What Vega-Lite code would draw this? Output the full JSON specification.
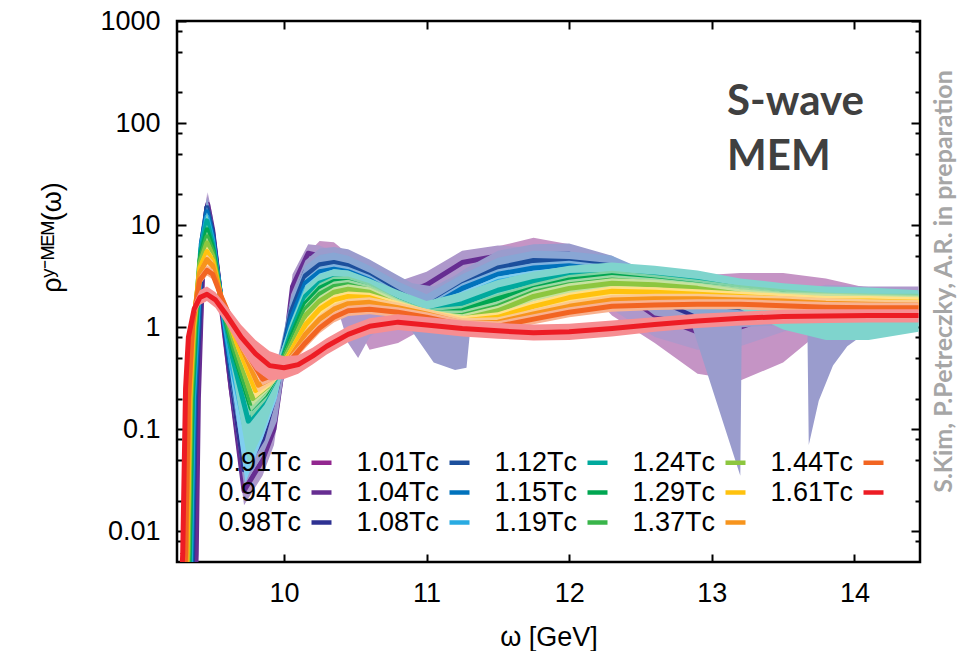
{
"$schema":"https://vega.github.io/schema/vega-lite/v6.json",
"width":743,"height":541,
"autosize":{"type":"none"},
"padding":{"left":177,"top":21,"right":37,"bottom":89},
"background":"white",
"config":{"view":{"stroke":"black","strokeWidth":2.5},"font":"Liberation Sans","axis":{"grid":false,"domain":false,"tickColor":"black","tickWidth":2,"labelColor":"black","titleColor":"black","labelFont":"Liberation Sans","titleFont":"Liberation Sans","labelFontSize":27,"titleFontSize":27,"titleFontWeight":"normal"}},
"datasets":{"c":[
{"t":"0.91","w":9.345,"v":0.0006,"lo":0.0004,"hi":0.0008},{"t":"0.91","w":9.37,"v":0.006,"lo":0.004,"hi":0.008},{"t":"0.91","w":9.39,"v":0.2,"lo":0.15,"hi":0.27},{"t":"0.91","w":9.415,"v":1.2,"lo":0.9,"hi":1.6},{"t":"0.91","w":9.435,"v":7,"lo":5.4,"hi":9},{"t":"0.91","w":9.46,"v":15,"lo":11,"hi":20},{"t":"0.91","w":9.5,"v":8,"lo":6,"hi":10.5},{"t":"0.91","w":9.56,"v":1.6,"lo":1.2,"hi":2.1},{"t":"0.91","w":9.63,"v":0.25,"lo":0.17,"hi":0.37},{"t":"0.91","w":9.72,"v":0.035,"lo":0.022,"hi":0.055},{"t":"0.91","w":9.85,"v":0.07,"lo":0.045,"hi":0.11},{"t":"0.91","w":9.95,"v":0.2,"lo":0.13,"hi":0.3},{"t":"0.91","w":10.05,"v":1.2,"lo":0.8,"hi":1.7},{"t":"0.91","w":10.15,"v":3.8,"lo":2.8,"hi":5},{"t":"0.91","w":10.25,"v":5.6,"lo":4.2,"hi":7},{"t":"0.91","w":10.35,"v":5.3,"lo":3.8,"hi":6.8},{"t":"0.91","w":10.45,"v":3.8,"lo":1.5,"hi":5.2},{"t":"0.91","w":10.6,"v":2.0,"lo":0.6,"hi":3.0},{"t":"0.91","w":10.8,"v":1.4,"lo":0.7,"hi":2.0},{"t":"0.91","w":11.0,"v":1.5,"lo":1.0,"hi":2.1},{"t":"0.91","w":11.25,"v":2.6,"lo":1.9,"hi":3.5},{"t":"0.91","w":11.5,"v":4.8,"lo":3.6,"hi":6.2},{"t":"0.91","w":11.75,"v":6.0,"lo":4.6,"hi":7.5},{"t":"0.91","w":12.0,"v":5.0,"lo":3.6,"hi":6.5},{"t":"0.91","w":12.3,"v":3.0,"lo":1.3,"hi":4.2},{"t":"0.91","w":12.6,"v":1.3,"lo":0.7,"hi":2.8},{"t":"0.91","w":12.9,"v":0.85,"lo":0.35,"hi":3.2},{"t":"0.91","w":13.2,"v":0.9,"lo":0.3,"hi":3.4},{"t":"0.91","w":13.5,"v":1.3,"lo":0.45,"hi":3.4},{"t":"0.91","w":13.8,"v":1.7,"lo":1.0,"hi":3.0},{"t":"0.91","w":14.1,"v":1.8,"lo":1.3,"hi":2.4},{"t":"0.91","w":14.45,"v":1.8,"lo":1.3,"hi":2.3},
{"t":"0.94","w":9.36,"v":0.0006,"lo":0.0004,"hi":0.0008},{"t":"0.94","w":9.385,"v":0.006,"lo":0.004,"hi":0.008},{"t":"0.94","w":9.4,"v":0.2,"lo":0.15,"hi":0.27},{"t":"0.94","w":9.42,"v":1.5,"lo":1.1,"hi":2},{"t":"0.94","w":9.44,"v":8,"lo":6,"hi":11},{"t":"0.94","w":9.465,"v":16,"lo":12,"hi":21},{"t":"0.94","w":9.5,"v":9,"lo":6.8,"hi":12},{"t":"0.94","w":9.56,"v":1.8,"lo":1.3,"hi":2.4},{"t":"0.94","w":9.63,"v":0.25,"lo":0.17,"hi":0.37},{"t":"0.94","w":9.72,"v":0.025,"lo":0.018,"hi":0.035},{"t":"0.94","w":9.85,"v":0.05,"lo":0.035,"hi":0.075},{"t":"0.94","w":9.93,"v":0.1,"lo":0.07,"hi":0.15},{"t":"0.94","w":10.0,"v":0.5,"lo":0.35,"hi":0.7},{"t":"0.94","w":10.06,"v":2.5,"lo":1.8,"hi":3.3},{"t":"0.94","w":10.17,"v":5.3,"lo":4.0,"hi":6.5},{"t":"0.94","w":10.25,"v":5.0,"lo":3.8,"hi":6.3},{"t":"0.94","w":10.35,"v":4.2,"lo":2.0,"hi":5.5},{"t":"0.94","w":10.45,"v":3.3,"lo":0.7,"hi":4.5},{"t":"0.94","w":10.52,"v":2.8,"lo":0.5,"hi":4.0},{"t":"0.94","w":10.6,"v":2.4,"lo":0.8,"hi":3.4},{"t":"0.94","w":10.8,"v":2.0,"lo":1.3,"hi":2.8},{"t":"0.94","w":11.0,"v":2.6,"lo":1.8,"hi":3.5},{"t":"0.94","w":11.25,"v":4.3,"lo":3.2,"hi":5.6},{"t":"0.94","w":11.5,"v":5.0,"lo":3.8,"hi":6.3},{"t":"0.94","w":11.75,"v":4.6,"lo":3.4,"hi":6.0},{"t":"0.94","w":12.0,"v":3.8,"lo":2.6,"hi":5.2},{"t":"0.94","w":12.3,"v":2.5,"lo":1.5,"hi":3.6},{"t":"0.94","w":12.6,"v":1.3,"lo":0.8,"hi":2.2},{"t":"0.94","w":12.9,"v":0.9,"lo":0.6,"hi":1.6},{"t":"0.94","w":13.2,"v":1.0,"lo":0.65,"hi":1.6},{"t":"0.94","w":13.5,"v":1.4,"lo":0.9,"hi":2.1},{"t":"0.94","w":13.8,"v":1.8,"lo":1.2,"hi":2.6},{"t":"0.94","w":14.1,"v":1.9,"lo":1.4,"hi":2.5},{"t":"0.94","w":14.45,"v":1.9,"lo":1.4,"hi":2.5},
{"t":"0.98","w":9.335,"v":0.0006,"lo":0.0004,"hi":0.0008},{"t":"0.98","w":9.36,"v":0.006,"lo":0.004,"hi":0.008},{"t":"0.98","w":9.38,"v":0.2,"lo":0.15,"hi":0.27},{"t":"0.98","w":9.405,"v":1.0,"lo":0.75,"hi":1.35},{"t":"0.98","w":9.43,"v":7,"lo":5.3,"hi":9},{"t":"0.98","w":9.46,"v":15,"lo":11.5,"hi":19},{"t":"0.98","w":9.5,"v":8.5,"lo":6.5,"hi":11},{"t":"0.98","w":9.56,"v":1.8,"lo":1.35,"hi":2.4},{"t":"0.98","w":9.63,"v":0.3,"lo":0.2,"hi":0.45},{"t":"0.98","w":9.72,"v":0.04,"lo":0.028,"hi":0.06},{"t":"0.98","w":9.85,"v":0.08,"lo":0.055,"hi":0.12},{"t":"0.98","w":9.95,"v":0.25,"lo":0.12,"hi":0.38},{"t":"0.98","w":10.05,"v":1.5,"lo":1.0,"hi":2.1},{"t":"0.98","w":10.15,"v":3.5,"lo":2.7,"hi":4.5},{"t":"0.98","w":10.25,"v":4.6,"lo":3.6,"hi":5.9},{"t":"0.98","w":10.35,"v":4.8,"lo":3.7,"hi":6.1},{"t":"0.98","w":10.45,"v":4.5,"lo":3.4,"hi":5.8},{"t":"0.98","w":10.6,"v":3.5,"lo":2.5,"hi":4.6},{"t":"0.98","w":10.8,"v":2.3,"lo":1.3,"hi":3.2},{"t":"0.98","w":10.9,"v":1.9,"lo":0.9,"hi":2.7},{"t":"0.98","w":11.05,"v":1.8,"lo":0.45,"hi":2.5},{"t":"0.98","w":11.2,"v":2.4,"lo":0.38,"hi":3.2},{"t":"0.98","w":11.28,"v":2.9,"lo":0.4,"hi":3.8},{"t":"0.98","w":11.32,"v":3.1,"lo":1.5,"hi":4.1},{"t":"0.98","w":11.5,"v":4.3,"lo":3.2,"hi":5.6},{"t":"0.98","w":11.75,"v":5.1,"lo":3.9,"hi":6.5},{"t":"0.98","w":12.0,"v":5.2,"lo":3.9,"hi":6.6},{"t":"0.98","w":12.3,"v":3.8,"lo":2.7,"hi":5.0},{"t":"0.98","w":12.6,"v":1.9,"lo":1.3,"hi":2.8},{"t":"0.98","w":12.85,"v":1.35,"lo":1.15,"hi":2.2},{"t":"0.98","w":13.2,"v":1.2,"lo":0.035,"hi":2.0},{"t":"0.98","w":13.21,"v":1.2,"lo":1.0,"hi":2.0},{"t":"0.98","w":13.5,"v":1.3,"lo":1.05,"hi":2.0},{"t":"0.98","w":13.67,"v":1.45,"lo":1.1,"hi":2.0},{"t":"0.98","w":13.68,"v":1.45,"lo":0.07,"hi":2.0},{"t":"0.98","w":13.75,"v":1.48,"lo":0.19,"hi":2.05},{"t":"0.98","w":13.85,"v":1.5,"lo":0.42,"hi":2.1},{"t":"0.98","w":13.95,"v":1.53,"lo":0.65,"hi":2.15},{"t":"0.98","w":14.05,"v":1.57,"lo":0.82,"hi":2.2},{"t":"0.98","w":14.2,"v":1.63,"lo":1.0,"hi":2.25},{"t":"0.98","w":14.45,"v":1.7,"lo":1.1,"hi":2.3},
{"t":"1.01","w":9.33,"v":0.0006,"lo":0.0004,"hi":0.0008},{"t":"1.01","w":9.355,"v":0.006,"lo":0.0045,"hi":0.008},{"t":"1.01","w":9.375,"v":0.2,"lo":0.16,"hi":0.25},{"t":"1.01","w":9.4,"v":1.0,"lo":0.8,"hi":1.25},{"t":"1.01","w":9.425,"v":7,"lo":5.6,"hi":8.7},{"t":"1.01","w":9.46,"v":14.8,"lo":12,"hi":18},{"t":"1.01","w":9.5,"v":8,"lo":6.4,"hi":10},{"t":"1.01","w":9.56,"v":1.8,"lo":1.4,"hi":2.3},{"t":"1.01","w":9.63,"v":0.35,"lo":0.25,"hi":0.5},{"t":"1.01","w":9.72,"v":0.07,"lo":0.045,"hi":0.1},{"t":"1.01","w":9.85,"v":0.12,"lo":0.08,"hi":0.18},{"t":"1.01","w":9.95,"v":0.3,"lo":0.2,"hi":0.45},{"t":"1.01","w":10.05,"v":1.4,"lo":1.0,"hi":1.9},{"t":"1.01","w":10.15,"v":3.2,"lo":2.5,"hi":4.0},{"t":"1.01","w":10.25,"v":4.1,"lo":3.3,"hi":5.1},{"t":"1.01","w":10.35,"v":4.3,"lo":3.4,"hi":5.4},{"t":"1.01","w":10.45,"v":4.0,"lo":3.2,"hi":5.0},{"t":"1.01","w":10.6,"v":3.2,"lo":2.5,"hi":4.0},{"t":"1.01","w":10.8,"v":2.2,"lo":1.7,"hi":2.8},{"t":"1.01","w":11.0,"v":1.6,"lo":1.2,"hi":2.1},{"t":"1.01","w":11.25,"v":2.6,"lo":2.0,"hi":3.3},{"t":"1.01","w":11.5,"v":3.8,"lo":3.0,"hi":4.8},{"t":"1.01","w":11.75,"v":4.5,"lo":3.6,"hi":5.6},{"t":"1.01","w":12.0,"v":4.4,"lo":3.5,"hi":5.5},{"t":"1.01","w":12.3,"v":4.0,"lo":3.2,"hi":5.0},{"t":"1.01","w":12.6,"v":2.6,"lo":2.0,"hi":3.3},{"t":"1.01","w":12.9,"v":1.7,"lo":1.3,"hi":2.2},{"t":"1.01","w":13.2,"v":1.55,"lo":1.2,"hi":2.0},{"t":"1.01","w":13.5,"v":1.5,"lo":1.2,"hi":1.9},{"t":"1.01","w":13.8,"v":1.6,"lo":1.3,"hi":2.0},{"t":"1.01","w":14.1,"v":1.7,"lo":1.4,"hi":2.1},{"t":"1.01","w":14.45,"v":1.8,"lo":1.5,"hi":2.2},
{"t":"1.04","w":9.325,"v":0.0006,"lo":0.0005,"hi":0.0007},{"t":"1.04","w":9.35,"v":0.006,"lo":0.005,"hi":0.007},{"t":"1.04","w":9.37,"v":0.2,"lo":0.17,"hi":0.24},{"t":"1.04","w":9.395,"v":1.0,"lo":0.89,"hi":1.12},{"t":"1.04","w":9.42,"v":6.5,"lo":5.8,"hi":7.3},{"t":"1.04","w":9.46,"v":13.5,"lo":12,"hi":15.1},{"t":"1.04","w":9.5,"v":7.5,"lo":6.7,"hi":8.4},{"t":"1.04","w":9.56,"v":1.8,"lo":1.6,"hi":2.0},{"t":"1.04","w":9.63,"v":0.4,"lo":0.33,"hi":0.5},{"t":"1.04","w":9.72,"v":0.085,"lo":0.06,"hi":0.12},{"t":"1.04","w":9.85,"v":0.14,"lo":0.1,"hi":0.19},{"t":"1.04","w":9.95,"v":0.3,"lo":0.24,"hi":0.38},{"t":"1.04","w":10.05,"v":1.2,"lo":1.07,"hi":1.34},{"t":"1.04","w":10.15,"v":2.7,"lo":2.4,"hi":3.0},{"t":"1.04","w":10.25,"v":3.5,"lo":3.1,"hi":3.9},{"t":"1.04","w":10.35,"v":3.7,"lo":3.3,"hi":4.15},{"t":"1.04","w":10.45,"v":3.5,"lo":3.1,"hi":3.9},{"t":"1.04","w":10.6,"v":2.9,"lo":2.6,"hi":3.25},{"t":"1.04","w":10.8,"v":2.0,"lo":1.78,"hi":2.24},{"t":"1.04","w":11.0,"v":1.5,"lo":1.34,"hi":1.68},{"t":"1.04","w":11.25,"v":2.4,"lo":2.14,"hi":2.7},{"t":"1.04","w":11.5,"v":3.3,"lo":2.94,"hi":3.7},{"t":"1.04","w":11.75,"v":3.8,"lo":3.38,"hi":4.26},{"t":"1.04","w":12.0,"v":4.0,"lo":3.56,"hi":4.48},{"t":"1.04","w":12.3,"v":3.6,"lo":3.2,"hi":4.03},{"t":"1.04","w":12.6,"v":2.8,"lo":2.5,"hi":3.14},{"t":"1.04","w":12.9,"v":2.0,"lo":1.78,"hi":2.24},{"t":"1.04","w":13.2,"v":1.7,"lo":1.51,"hi":1.9},{"t":"1.04","w":13.5,"v":1.6,"lo":1.42,"hi":1.79},{"t":"1.04","w":13.8,"v":1.7,"lo":1.51,"hi":1.9},{"t":"1.04","w":14.1,"v":1.8,"lo":1.6,"hi":2.02},{"t":"1.04","w":14.45,"v":1.85,"lo":1.65,"hi":2.07},
{"t":"1.08","w":9.32,"v":0.0006,"lo":0.0005,"hi":0.0007},{"t":"1.08","w":9.345,"v":0.006,"lo":0.005,"hi":0.007},{"t":"1.08","w":9.365,"v":0.2,"lo":0.17,"hi":0.24},{"t":"1.08","w":9.39,"v":1.0,"lo":0.89,"hi":1.12},{"t":"1.08","w":9.42,"v":6,"lo":5.34,"hi":6.72},{"t":"1.08","w":9.46,"v":12,"lo":10.7,"hi":13.4},{"t":"1.08","w":9.5,"v":7,"lo":6.23,"hi":7.84},{"t":"1.08","w":9.56,"v":1.8,"lo":1.6,"hi":2.0},{"t":"1.08","w":9.63,"v":0.45,"lo":0.3,"hi":0.6},{"t":"1.08","w":9.73,"v":0.1,"lo":0.03,"hi":0.16},{"t":"1.08","w":9.85,"v":0.16,"lo":0.08,"hi":0.25},{"t":"1.08","w":9.95,"v":0.32,"lo":0.2,"hi":0.45},{"t":"1.08","w":10.05,"v":1.0,"lo":0.89,"hi":1.12},{"t":"1.08","w":10.15,"v":2.3,"lo":2.05,"hi":2.58},{"t":"1.08","w":10.25,"v":3.0,"lo":2.67,"hi":3.36},{"t":"1.08","w":10.35,"v":3.3,"lo":2.94,"hi":3.7},{"t":"1.08","w":10.45,"v":3.2,"lo":2.85,"hi":3.58},{"t":"1.08","w":10.6,"v":2.6,"lo":2.31,"hi":2.91},{"t":"1.08","w":10.8,"v":1.9,"lo":1.69,"hi":2.13},{"t":"1.08","w":11.0,"v":1.5,"lo":1.34,"hi":1.68},{"t":"1.08","w":11.25,"v":2.0,"lo":1.78,"hi":2.24},{"t":"1.08","w":11.5,"v":2.8,"lo":2.49,"hi":3.14},{"t":"1.08","w":11.75,"v":3.2,"lo":2.85,"hi":3.58},{"t":"1.08","w":12.0,"v":3.5,"lo":3.12,"hi":3.92},{"t":"1.08","w":12.3,"v":3.4,"lo":3.03,"hi":3.81},{"t":"1.08","w":12.6,"v":2.9,"lo":2.58,"hi":3.25},{"t":"1.08","w":12.9,"v":2.3,"lo":2.05,"hi":2.58},{"t":"1.08","w":13.2,"v":1.9,"lo":1.69,"hi":2.13},{"t":"1.08","w":13.5,"v":1.8,"lo":1.6,"hi":2.02},{"t":"1.08","w":13.8,"v":1.8,"lo":1.6,"hi":2.02},{"t":"1.08","w":14.1,"v":1.9,"lo":1.69,"hi":2.13},{"t":"1.08","w":14.45,"v":1.9,"lo":1.69,"hi":2.13},
{"t":"1.12","w":9.315,"v":0.0006,"lo":0.0005,"hi":0.0007},{"t":"1.12","w":9.34,"v":0.006,"lo":0.005,"hi":0.007},{"t":"1.12","w":9.36,"v":0.2,"lo":0.17,"hi":0.24},{"t":"1.12","w":9.385,"v":1.0,"lo":0.83,"hi":1.2},{"t":"1.12","w":9.415,"v":5.5,"lo":4.6,"hi":6.6},{"t":"1.12","w":9.46,"v":11,"lo":9.2,"hi":13.2},{"t":"1.12","w":9.5,"v":6.5,"lo":5.4,"hi":7.8},{"t":"1.12","w":9.56,"v":1.8,"lo":1.5,"hi":2.2},{"t":"1.12","w":9.64,"v":0.5,"lo":0.35,"hi":0.7},{"t":"1.12","w":9.75,"v":0.12,"lo":0.045,"hi":0.2},{"t":"1.12","w":9.85,"v":0.18,"lo":0.09,"hi":0.28},{"t":"1.12","w":9.95,"v":0.33,"lo":0.22,"hi":0.45},{"t":"1.12","w":10.05,"v":0.9,"lo":0.72,"hi":1.15},{"t":"1.12","w":10.15,"v":2.0,"lo":1.6,"hi":2.5},{"t":"1.12","w":10.25,"v":2.7,"lo":2.2,"hi":3.3},{"t":"1.12","w":10.35,"v":3.0,"lo":2.4,"hi":3.7},{"t":"1.12","w":10.45,"v":2.9,"lo":2.3,"hi":3.6},{"t":"1.12","w":10.6,"v":2.4,"lo":1.9,"hi":3.0},{"t":"1.12","w":10.8,"v":1.8,"lo":1.3,"hi":2.3},{"t":"1.12","w":11.0,"v":1.4,"lo":1.0,"hi":1.8},{"t":"1.12","w":11.25,"v":1.7,"lo":1.3,"hi":2.2},{"t":"1.12","w":11.5,"v":2.3,"lo":1.8,"hi":2.9},{"t":"1.12","w":11.75,"v":2.8,"lo":2.2,"hi":3.5},{"t":"1.12","w":12.0,"v":3.2,"lo":2.5,"hi":4.0},{"t":"1.12","w":12.3,"v":3.3,"lo":2.5,"hi":4.3},{"t":"1.12","w":12.6,"v":3.1,"lo":2.3,"hi":4.0},{"t":"1.12","w":12.9,"v":2.8,"lo":2.0,"hi":3.6},{"t":"1.12","w":13.2,"v":2.4,"lo":1.5,"hi":3.0},{"t":"1.12","w":13.5,"v":1.8,"lo":0.95,"hi":2.7},{"t":"1.12","w":13.8,"v":1.6,"lo":0.75,"hi":2.5},{"t":"1.12","w":14.1,"v":1.6,"lo":0.75,"hi":2.45},{"t":"1.12","w":14.45,"v":1.65,"lo":0.9,"hi":2.3},
{"t":"1.15","w":9.31,"v":0.0006,"lo":0.0005,"hi":0.0007},{"t":"1.15","w":9.335,"v":0.006,"lo":0.005,"hi":0.007},{"t":"1.15","w":9.355,"v":0.2,"lo":0.17,"hi":0.24},{"t":"1.15","w":9.38,"v":1.0,"lo":0.89,"hi":1.12},{"t":"1.15","w":9.415,"v":5,"lo":4.45,"hi":5.6},{"t":"1.15","w":9.46,"v":9,"lo":8,"hi":10.1},{"t":"1.15","w":9.5,"v":6,"lo":5.34,"hi":6.72},{"t":"1.15","w":9.56,"v":1.8,"lo":1.6,"hi":2.0},{"t":"1.15","w":9.65,"v":0.55,"lo":0.47,"hi":0.64},{"t":"1.15","w":9.77,"v":0.16,"lo":0.13,"hi":0.19},{"t":"1.15","w":9.87,"v":0.22,"lo":0.19,"hi":0.26},{"t":"1.15","w":9.95,"v":0.34,"lo":0.3,"hi":0.39},{"t":"1.15","w":10.05,"v":0.8,"lo":0.71,"hi":0.9},{"t":"1.15","w":10.15,"v":1.7,"lo":1.51,"hi":1.9},{"t":"1.15","w":10.25,"v":2.4,"lo":2.14,"hi":2.69},{"t":"1.15","w":10.35,"v":2.8,"lo":2.49,"hi":3.14},{"t":"1.15","w":10.45,"v":2.8,"lo":2.49,"hi":3.14},{"t":"1.15","w":10.6,"v":2.4,"lo":2.14,"hi":2.69},{"t":"1.15","w":10.8,"v":1.7,"lo":1.51,"hi":1.9},{"t":"1.15","w":11.0,"v":1.35,"lo":1.2,"hi":1.51},{"t":"1.15","w":11.25,"v":1.45,"lo":1.29,"hi":1.62},{"t":"1.15","w":11.5,"v":1.9,"lo":1.69,"hi":2.13},{"t":"1.15","w":11.75,"v":2.4,"lo":2.14,"hi":2.69},{"t":"1.15","w":12.0,"v":2.9,"lo":2.58,"hi":3.25},{"t":"1.15","w":12.3,"v":3.2,"lo":2.85,"hi":3.58},{"t":"1.15","w":12.6,"v":2.9,"lo":2.58,"hi":3.25},{"t":"1.15","w":12.9,"v":2.6,"lo":2.31,"hi":2.91},{"t":"1.15","w":13.2,"v":2.3,"lo":2.05,"hi":2.58},{"t":"1.15","w":13.5,"v":2.1,"lo":1.87,"hi":2.35},{"t":"1.15","w":13.8,"v":1.95,"lo":1.74,"hi":2.18},{"t":"1.15","w":14.1,"v":1.9,"lo":1.69,"hi":2.13},{"t":"1.15","w":14.45,"v":1.9,"lo":1.69,"hi":2.13},
{"t":"1.19","w":9.305,"v":0.0006,"lo":0.0005,"hi":0.0007},{"t":"1.19","w":9.33,"v":0.006,"lo":0.005,"hi":0.007},{"t":"1.19","w":9.35,"v":0.2,"lo":0.17,"hi":0.24},{"t":"1.19","w":9.375,"v":1.0,"lo":0.89,"hi":1.12},{"t":"1.19","w":9.41,"v":4.5,"lo":4.0,"hi":5.04},{"t":"1.19","w":9.46,"v":7.7,"lo":6.85,"hi":8.62},{"t":"1.19","w":9.5,"v":5.5,"lo":4.9,"hi":6.16},{"t":"1.19","w":9.56,"v":1.8,"lo":1.6,"hi":2.0},{"t":"1.19","w":9.65,"v":0.6,"lo":0.52,"hi":0.7},{"t":"1.19","w":9.77,"v":0.18,"lo":0.15,"hi":0.21},{"t":"1.19","w":9.87,"v":0.24,"lo":0.21,"hi":0.28},{"t":"1.19","w":9.95,"v":0.35,"lo":0.31,"hi":0.4},{"t":"1.19","w":10.05,"v":0.72,"lo":0.64,"hi":0.81},{"t":"1.19","w":10.15,"v":1.5,"lo":1.34,"hi":1.68},{"t":"1.19","w":10.25,"v":2.1,"lo":1.87,"hi":2.35},{"t":"1.19","w":10.35,"v":2.5,"lo":2.23,"hi":2.8},{"t":"1.19","w":10.45,"v":2.6,"lo":2.31,"hi":2.91},{"t":"1.19","w":10.6,"v":2.3,"lo":2.05,"hi":2.58},{"t":"1.19","w":10.8,"v":1.7,"lo":1.51,"hi":1.9},{"t":"1.19","w":11.0,"v":1.3,"lo":1.16,"hi":1.46},{"t":"1.19","w":11.25,"v":1.3,"lo":1.16,"hi":1.46},{"t":"1.19","w":11.5,"v":1.6,"lo":1.42,"hi":1.79},{"t":"1.19","w":11.75,"v":2.2,"lo":1.96,"hi":2.46},{"t":"1.19","w":12.0,"v":2.6,"lo":2.31,"hi":2.91},{"t":"1.19","w":12.3,"v":2.9,"lo":2.58,"hi":3.25},{"t":"1.19","w":12.6,"v":2.7,"lo":2.4,"hi":3.02},{"t":"1.19","w":12.9,"v":2.45,"lo":2.18,"hi":2.74},{"t":"1.19","w":13.2,"v":2.2,"lo":1.96,"hi":2.46},{"t":"1.19","w":13.5,"v":2.0,"lo":1.78,"hi":2.24},{"t":"1.19","w":13.8,"v":1.95,"lo":1.74,"hi":2.18},{"t":"1.19","w":14.1,"v":1.9,"lo":1.69,"hi":2.13},{"t":"1.19","w":14.45,"v":1.85,"lo":1.65,"hi":2.07},
{"t":"1.24","w":9.3,"v":0.0006,"lo":0.0005,"hi":0.0007},{"t":"1.24","w":9.325,"v":0.006,"lo":0.005,"hi":0.007},{"t":"1.24","w":9.345,"v":0.2,"lo":0.17,"hi":0.24},{"t":"1.24","w":9.37,"v":1.0,"lo":0.89,"hi":1.12},{"t":"1.24","w":9.41,"v":4.2,"lo":3.74,"hi":4.7},{"t":"1.24","w":9.46,"v":6.7,"lo":5.96,"hi":7.5},{"t":"1.24","w":9.5,"v":5,"lo":4.45,"hi":5.6},{"t":"1.24","w":9.56,"v":1.9,"lo":1.69,"hi":2.13},{"t":"1.24","w":9.66,"v":0.65,"lo":0.56,"hi":0.76},{"t":"1.24","w":9.78,"v":0.2,"lo":0.17,"hi":0.24},{"t":"1.24","w":9.88,"v":0.26,"lo":0.23,"hi":0.3},{"t":"1.24","w":9.96,"v":0.36,"lo":0.32,"hi":0.41},{"t":"1.24","w":10.05,"v":0.65,"lo":0.58,"hi":0.73},{"t":"1.24","w":10.15,"v":1.3,"lo":1.16,"hi":1.46},{"t":"1.24","w":10.25,"v":1.8,"lo":1.6,"hi":2.02},{"t":"1.24","w":10.35,"v":2.2,"lo":1.96,"hi":2.46},{"t":"1.24","w":10.45,"v":2.35,"lo":2.09,"hi":2.63},{"t":"1.24","w":10.6,"v":2.2,"lo":1.96,"hi":2.46},{"t":"1.24","w":10.8,"v":1.65,"lo":1.47,"hi":1.85},{"t":"1.24","w":11.0,"v":1.3,"lo":1.16,"hi":1.46},{"t":"1.24","w":11.25,"v":1.2,"lo":1.07,"hi":1.34},{"t":"1.24","w":11.5,"v":1.45,"lo":1.29,"hi":1.62},{"t":"1.24","w":11.75,"v":2.0,"lo":1.78,"hi":2.24},{"t":"1.24","w":12.0,"v":2.4,"lo":2.14,"hi":2.69},{"t":"1.24","w":12.3,"v":2.7,"lo":2.4,"hi":3.02},{"t":"1.24","w":12.6,"v":2.6,"lo":2.31,"hi":2.91},{"t":"1.24","w":12.9,"v":2.4,"lo":2.14,"hi":2.69},{"t":"1.24","w":13.2,"v":2.1,"lo":1.87,"hi":2.35},{"t":"1.24","w":13.5,"v":1.95,"lo":1.74,"hi":2.18},{"t":"1.24","w":13.8,"v":1.9,"lo":1.69,"hi":2.13},{"t":"1.24","w":14.1,"v":1.85,"lo":1.65,"hi":2.07},{"t":"1.24","w":14.45,"v":1.8,"lo":1.6,"hi":2.02},
{"t":"1.29","w":9.295,"v":0.0006,"lo":0.0005,"hi":0.0007},{"t":"1.29","w":9.32,"v":0.006,"lo":0.005,"hi":0.007},{"t":"1.29","w":9.34,"v":0.2,"lo":0.17,"hi":0.24},{"t":"1.29","w":9.365,"v":1.0,"lo":0.89,"hi":1.12},{"t":"1.29","w":9.41,"v":3.8,"lo":3.38,"hi":4.26},{"t":"1.29","w":9.46,"v":5.5,"lo":4.9,"hi":6.16},{"t":"1.29","w":9.5,"v":4.5,"lo":4.0,"hi":5.04},{"t":"1.29","w":9.56,"v":1.9,"lo":1.69,"hi":2.13},{"t":"1.29","w":9.67,"v":0.7,"lo":0.6,"hi":0.82},{"t":"1.29","w":9.8,"v":0.24,"lo":0.2,"hi":0.28},{"t":"1.29","w":9.9,"v":0.3,"lo":0.26,"hi":0.34},{"t":"1.29","w":9.97,"v":0.37,"lo":0.33,"hi":0.42},{"t":"1.29","w":10.05,"v":0.58,"lo":0.52,"hi":0.65},{"t":"1.29","w":10.15,"v":1.05,"lo":0.93,"hi":1.18},{"t":"1.29","w":10.25,"v":1.5,"lo":1.34,"hi":1.68},{"t":"1.29","w":10.35,"v":1.85,"lo":1.65,"hi":2.07},{"t":"1.29","w":10.45,"v":2.0,"lo":1.78,"hi":2.24},{"t":"1.29","w":10.6,"v":1.95,"lo":1.74,"hi":2.18},{"t":"1.29","w":10.8,"v":1.6,"lo":1.42,"hi":1.79},{"t":"1.29","w":11.0,"v":1.35,"lo":1.2,"hi":1.51},{"t":"1.29","w":11.25,"v":1.15,"lo":1.02,"hi":1.29},{"t":"1.29","w":11.5,"v":1.25,"lo":1.11,"hi":1.4},{"t":"1.29","w":11.75,"v":1.6,"lo":1.42,"hi":1.79},{"t":"1.29","w":12.0,"v":1.95,"lo":1.74,"hi":2.18},{"t":"1.29","w":12.3,"v":2.25,"lo":2.0,"hi":2.52},{"t":"1.29","w":12.6,"v":2.2,"lo":1.96,"hi":2.46},{"t":"1.29","w":12.9,"v":2.1,"lo":1.87,"hi":2.35},{"t":"1.29","w":13.2,"v":2.0,"lo":1.78,"hi":2.24},{"t":"1.29","w":13.5,"v":1.9,"lo":1.69,"hi":2.13},{"t":"1.29","w":13.8,"v":1.8,"lo":1.6,"hi":2.02},{"t":"1.29","w":14.1,"v":1.8,"lo":1.6,"hi":2.02},{"t":"1.29","w":14.45,"v":1.75,"lo":1.56,"hi":1.96},
{"t":"1.37","w":9.29,"v":0.0006,"lo":0.0005,"hi":0.0007},{"t":"1.37","w":9.315,"v":0.006,"lo":0.005,"hi":0.007},{"t":"1.37","w":9.335,"v":0.2,"lo":0.17,"hi":0.24},{"t":"1.37","w":9.36,"v":1.0,"lo":0.89,"hi":1.12},{"t":"1.37","w":9.41,"v":3.4,"lo":3.03,"hi":3.81},{"t":"1.37","w":9.46,"v":4.6,"lo":4.1,"hi":5.15},{"t":"1.37","w":9.5,"v":4.0,"lo":3.56,"hi":4.48},{"t":"1.37","w":9.56,"v":1.95,"lo":1.74,"hi":2.18},{"t":"1.37","w":9.68,"v":0.75,"lo":0.65,"hi":0.87},{"t":"1.37","w":9.82,"v":0.27,"lo":0.23,"hi":0.31},{"t":"1.37","w":9.92,"v":0.32,"lo":0.28,"hi":0.36},{"t":"1.37","w":9.98,"v":0.38,"lo":0.34,"hi":0.43},{"t":"1.37","w":10.05,"v":0.52,"lo":0.46,"hi":0.58},{"t":"1.37","w":10.15,"v":0.85,"lo":0.76,"hi":0.95},{"t":"1.37","w":10.25,"v":1.2,"lo":1.07,"hi":1.34},{"t":"1.37","w":10.35,"v":1.5,"lo":1.34,"hi":1.68},{"t":"1.37","w":10.45,"v":1.7,"lo":1.51,"hi":1.9},{"t":"1.37","w":10.6,"v":1.75,"lo":1.56,"hi":1.96},{"t":"1.37","w":10.8,"v":1.55,"lo":1.38,"hi":1.74},{"t":"1.37","w":11.0,"v":1.35,"lo":1.2,"hi":1.51},{"t":"1.37","w":11.25,"v":1.1,"lo":0.98,"hi":1.23},{"t":"1.37","w":11.5,"v":1.12,"lo":1.0,"hi":1.25},{"t":"1.37","w":11.75,"v":1.35,"lo":1.2,"hi":1.51},{"t":"1.37","w":12.0,"v":1.6,"lo":1.42,"hi":1.79},{"t":"1.37","w":12.3,"v":1.85,"lo":1.65,"hi":2.07},{"t":"1.37","w":12.6,"v":1.9,"lo":1.69,"hi":2.13},{"t":"1.37","w":12.9,"v":1.9,"lo":1.69,"hi":2.13},{"t":"1.37","w":13.2,"v":1.85,"lo":1.65,"hi":2.07},{"t":"1.37","w":13.5,"v":1.8,"lo":1.6,"hi":2.02},{"t":"1.37","w":13.8,"v":1.72,"lo":1.53,"hi":1.93},{"t":"1.37","w":14.1,"v":1.68,"lo":1.5,"hi":1.88},{"t":"1.37","w":14.45,"v":1.65,"lo":1.47,"hi":1.85},
{"t":"1.44","w":9.28,"v":0.0006,"lo":0.0005,"hi":0.0007},{"t":"1.44","w":9.31,"v":0.006,"lo":0.005,"hi":0.007},{"t":"1.44","w":9.33,"v":0.2,"lo":0.17,"hi":0.24},{"t":"1.44","w":9.36,"v":1.1,"lo":0.98,"hi":1.23},{"t":"1.44","w":9.41,"v":2.9,"lo":2.58,"hi":3.25},{"t":"1.44","w":9.46,"v":3.6,"lo":3.2,"hi":4.03},{"t":"1.44","w":9.5,"v":3.3,"lo":2.94,"hi":3.7},{"t":"1.44","w":9.56,"v":2.0,"lo":1.78,"hi":2.24},{"t":"1.44","w":9.7,"v":0.7,"lo":0.6,"hi":0.82},{"t":"1.44","w":9.85,"v":0.31,"lo":0.27,"hi":0.35},{"t":"1.44","w":9.93,"v":0.34,"lo":0.3,"hi":0.38},{"t":"1.44","w":10.0,"v":0.42,"lo":0.37,"hi":0.47},{"t":"1.44","w":10.05,"v":0.48,"lo":0.43,"hi":0.54},{"t":"1.44","w":10.15,"v":0.7,"lo":0.62,"hi":0.78},{"t":"1.44","w":10.25,"v":0.98,"lo":0.87,"hi":1.1},{"t":"1.44","w":10.35,"v":1.25,"lo":1.11,"hi":1.4},{"t":"1.44","w":10.45,"v":1.45,"lo":1.29,"hi":1.62},{"t":"1.44","w":10.6,"v":1.5,"lo":1.34,"hi":1.68},{"t":"1.44","w":10.8,"v":1.4,"lo":1.25,"hi":1.57},{"t":"1.44","w":11.0,"v":1.25,"lo":1.11,"hi":1.4},{"t":"1.44","w":11.25,"v":1.05,"lo":0.93,"hi":1.18},{"t":"1.44","w":11.5,"v":1.02,"lo":0.91,"hi":1.14},{"t":"1.44","w":11.75,"v":1.2,"lo":1.07,"hi":1.34},{"t":"1.44","w":12.0,"v":1.4,"lo":1.25,"hi":1.57},{"t":"1.44","w":12.3,"v":1.6,"lo":1.42,"hi":1.79},{"t":"1.44","w":12.6,"v":1.65,"lo":1.47,"hi":1.85},{"t":"1.44","w":12.9,"v":1.68,"lo":1.5,"hi":1.88},{"t":"1.44","w":13.2,"v":1.68,"lo":1.5,"hi":1.88},{"t":"1.44","w":13.5,"v":1.62,"lo":1.44,"hi":1.81},{"t":"1.44","w":13.8,"v":1.57,"lo":1.4,"hi":1.76},{"t":"1.44","w":14.1,"v":1.55,"lo":1.38,"hi":1.74},{"t":"1.44","w":14.45,"v":1.55,"lo":1.38,"hi":1.74},
{"t":"1.61","w":9.26,"v":0.0006,"lo":0.0005,"hi":0.0007},{"t":"1.61","w":9.29,"v":0.006,"lo":0.005,"hi":0.008},{"t":"1.61","w":9.31,"v":0.25,"lo":0.2,"hi":0.3},{"t":"1.61","w":9.33,"v":0.8,"lo":0.68,"hi":0.95},{"t":"1.61","w":9.37,"v":1.5,"lo":1.28,"hi":1.75},{"t":"1.61","w":9.41,"v":1.95,"lo":1.65,"hi":2.3},{"t":"1.61","w":9.46,"v":2.1,"lo":1.8,"hi":2.5},{"t":"1.61","w":9.52,"v":1.85,"lo":1.55,"hi":2.2},{"t":"1.61","w":9.6,"v":1.3,"lo":1.05,"hi":1.6},{"t":"1.61","w":9.7,"v":0.8,"lo":0.6,"hi":1.05},{"t":"1.61","w":9.8,"v":0.55,"lo":0.38,"hi":0.75},{"t":"1.61","w":9.9,"v":0.42,"lo":0.3,"hi":0.58},{"t":"1.61","w":10.0,"v":0.4,"lo":0.31,"hi":0.52},{"t":"1.61","w":10.1,"v":0.43,"lo":0.35,"hi":0.53},{"t":"1.61","w":10.2,"v":0.52,"lo":0.43,"hi":0.63},{"t":"1.61","w":10.3,"v":0.65,"lo":0.54,"hi":0.78},{"t":"1.61","w":10.45,"v":0.85,"lo":0.71,"hi":1.02},{"t":"1.61","w":10.6,"v":1.02,"lo":0.85,"hi":1.22},{"t":"1.61","w":10.8,"v":1.12,"lo":0.94,"hi":1.34},{"t":"1.61","w":11.0,"v":1.05,"lo":0.88,"hi":1.26},{"t":"1.61","w":11.25,"v":0.97,"lo":0.81,"hi":1.16},{"t":"1.61","w":11.5,"v":0.92,"lo":0.77,"hi":1.1},{"t":"1.61","w":11.75,"v":0.88,"lo":0.74,"hi":1.06},{"t":"1.61","w":12.0,"v":0.9,"lo":0.75,"hi":1.08},{"t":"1.61","w":12.3,"v":0.97,"lo":0.81,"hi":1.16},{"t":"1.61","w":12.6,"v":1.06,"lo":0.9,"hi":1.25},{"t":"1.61","w":12.9,"v":1.15,"lo":0.98,"hi":1.35},{"t":"1.61","w":13.2,"v":1.22,"lo":1.04,"hi":1.42},{"t":"1.61","w":13.5,"v":1.27,"lo":1.08,"hi":1.48},{"t":"1.61","w":13.8,"v":1.29,"lo":1.1,"hi":1.5},{"t":"1.61","w":14.1,"v":1.3,"lo":1.11,"hi":1.5},{"t":"1.61","w":14.45,"v":1.3,"lo":1.11,"hi":1.5}
]},
"layer":[
{"data":{"name":"c"},
 "encoding":{"x":{"field":"w","type":"quantitative","scale":{"domain":[9.25,14.46],"nice":false,"zero":false},"axis":{"orient":"bottom","values":[10,11,12,13,14],"format":"d","tickSize":-8,"labelPadding":26,"title":"ω [GeV]","titlePadding":18}}},
 "layer":[
  {"transform":[{"filter":"datum.t=='0.91'"}],"mark":{"type":"area","clip":true,"color":"#c594c5","opacity":1},"encoding":{"y":{"field":"lo","type":"quantitative","scale":{"type":"log","domain":[0.005,1000],"nice":false},"axis":{"orient":"left","values":[0.01,0.1,1,10,100,1000],"format":"~g","tickSize":-9,"labelPadding":26,"title":"ρʸ⁻ᴹᴱᴹ(ω)","titleAngle":270,"titleX":-125,"titleY":216,"titleAlign":"center","titleBaseline":"middle"}},"y2":{"field":"hi"}}},
  {"transform":[{"filter":"datum.t=='0.91'"}],"mark":{"type":"line","clip":true,"strokeWidth":5,"strokeJoin":"round"},"encoding":{"y":{"field":"v","type":"quantitative","scale":{"type":"log","domain":[0.005,1000],"nice":false}},"color":{"field":"t","type":"nominal","scale":{"domain":["0.91","1.01","1.12","1.24","1.44","0.94","1.04","1.15","1.29","1.61","0.98","1.08","1.19","1.37"],"range":["#92278f","#1c4f9c","#00a99d","#8dc63f","#f26522","#662d91","#0072bc","#00a651","#ffc20e","#ed1c24","#2e3192","#29abe2","#39b54a","#f7941d"]},"legend":{"orient":"none","legendX":131,"legendY":428,"title":null,"columns":5,"direction":"horizontal","symbolType":"stroke","symbolSize":400,"symbolStrokeWidth":4.5,"labelFont":"Liberation Sans","labelFontSize":27,"labelColor":"black","labelAlign":"right","labelOffset":-34,"columnPadding":15,"rowPadding":2,"gridAlign":"all","padding":0,"labelExpr":"datum.label + 'Tᴄ'"}}}},
  {"transform":[{"filter":"datum.t=='0.94'"}],"mark":{"type":"area","clip":true,"color":"#ae98cb","opacity":1},"encoding":{"y":{"field":"lo","type":"quantitative","scale":{"type":"log","domain":[0.005,1000],"nice":false}},"y2":{"field":"hi"}}},
  {"transform":[{"filter":"datum.t=='0.94'"}],"mark":{"type":"line","clip":true,"strokeWidth":5,"strokeJoin":"round"},"encoding":{"y":{"field":"v","type":"quantitative","scale":{"type":"log","domain":[0.005,1000],"nice":false}},"color":{"field":"t","type":"nominal"}}},
  {"transform":[{"filter":"datum.t=='0.98'"}],"mark":{"type":"area","clip":true,"color":"#9a9ccd","opacity":1},"encoding":{"y":{"field":"lo","type":"quantitative","scale":{"type":"log","domain":[0.005,1000],"nice":false}},"y2":{"field":"hi"}}},
  {"transform":[{"filter":"datum.t=='0.98'"}],"mark":{"type":"line","clip":true,"strokeWidth":5,"strokeJoin":"round"},"encoding":{"y":{"field":"v","type":"quantitative","scale":{"type":"log","domain":[0.005,1000],"nice":false}},"color":{"field":"t","type":"nominal"}}},
  {"transform":[{"filter":"datum.t=='1.01'"}],"mark":{"type":"area","clip":true,"color":"#88a6d4","opacity":1},"encoding":{"y":{"field":"lo","type":"quantitative","scale":{"type":"log","domain":[0.005,1000],"nice":false}},"y2":{"field":"hi"}}},
  {"transform":[{"filter":"datum.t=='1.01'"}],"mark":{"type":"line","clip":true,"strokeWidth":5,"strokeJoin":"round"},"encoding":{"y":{"field":"v","type":"quantitative","scale":{"type":"log","domain":[0.005,1000],"nice":false}},"color":{"field":"t","type":"nominal"}}},
  {"transform":[{"filter":"datum.t=='1.04'"}],"mark":{"type":"area","clip":true,"color":"#7fb2de","opacity":1},"encoding":{"y":{"field":"lo","type":"quantitative","scale":{"type":"log","domain":[0.005,1000],"nice":false}},"y2":{"field":"hi"}}},
  {"transform":[{"filter":"datum.t=='1.04'"}],"mark":{"type":"line","clip":true,"strokeWidth":5,"strokeJoin":"round"},"encoding":{"y":{"field":"v","type":"quantitative","scale":{"type":"log","domain":[0.005,1000],"nice":false}},"color":{"field":"t","type":"nominal"}}},
  {"transform":[{"filter":"datum.t=='1.08'"}],"mark":{"type":"area","clip":true,"color":"#80cff0","opacity":1},"encoding":{"y":{"field":"lo","type":"quantitative","scale":{"type":"log","domain":[0.005,1000],"nice":false}},"y2":{"field":"hi"}}},
  {"transform":[{"filter":"datum.t=='1.08'"}],"mark":{"type":"line","clip":true,"strokeWidth":5,"strokeJoin":"round"},"encoding":{"y":{"field":"v","type":"quantitative","scale":{"type":"log","domain":[0.005,1000],"nice":false}},"color":{"field":"t","type":"nominal"}}},
  {"transform":[{"filter":"datum.t=='1.12'"}],"mark":{"type":"area","clip":true,"color":"#7fd4cd","opacity":1},"encoding":{"y":{"field":"lo","type":"quantitative","scale":{"type":"log","domain":[0.005,1000],"nice":false}},"y2":{"field":"hi"}}},
  {"transform":[{"filter":"datum.t=='1.12'"}],"mark":{"type":"line","clip":true,"strokeWidth":5,"strokeJoin":"round"},"encoding":{"y":{"field":"v","type":"quantitative","scale":{"type":"log","domain":[0.005,1000],"nice":false}},"color":{"field":"t","type":"nominal"}}},
  {"transform":[{"filter":"datum.t=='1.15'"}],"mark":{"type":"area","clip":true,"color":"#80d2a6","opacity":1},"encoding":{"y":{"field":"lo","type":"quantitative","scale":{"type":"log","domain":[0.005,1000],"nice":false}},"y2":{"field":"hi"}}},
  {"transform":[{"filter":"datum.t=='1.15'"}],"mark":{"type":"line","clip":true,"strokeWidth":5,"strokeJoin":"round"},"encoding":{"y":{"field":"v","type":"quantitative","scale":{"type":"log","domain":[0.005,1000],"nice":false}},"color":{"field":"t","type":"nominal"}}},
  {"transform":[{"filter":"datum.t=='1.19'"}],"mark":{"type":"area","clip":true,"color":"#9cd9a4","opacity":1},"encoding":{"y":{"field":"lo","type":"quantitative","scale":{"type":"log","domain":[0.005,1000],"nice":false}},"y2":{"field":"hi"}}},
  {"transform":[{"filter":"datum.t=='1.19'"}],"mark":{"type":"line","clip":true,"strokeWidth":5,"strokeJoin":"round"},"encoding":{"y":{"field":"v","type":"quantitative","scale":{"type":"log","domain":[0.005,1000],"nice":false}},"color":{"field":"t","type":"nominal"}}},
  {"transform":[{"filter":"datum.t=='1.24'"}],"mark":{"type":"area","clip":true,"color":"#c6e29f","opacity":1},"encoding":{"y":{"field":"lo","type":"quantitative","scale":{"type":"log","domain":[0.005,1000],"nice":false}},"y2":{"field":"hi"}}},
  {"transform":[{"filter":"datum.t=='1.24'"}],"mark":{"type":"line","clip":true,"strokeWidth":5,"strokeJoin":"round"},"encoding":{"y":{"field":"v","type":"quantitative","scale":{"type":"log","domain":[0.005,1000],"nice":false}},"color":{"field":"t","type":"nominal"}}},
  {"transform":[{"filter":"datum.t=='1.29'"}],"mark":{"type":"area","clip":true,"color":"#ffe086","opacity":1},"encoding":{"y":{"field":"lo","type":"quantitative","scale":{"type":"log","domain":[0.005,1000],"nice":false}},"y2":{"field":"hi"}}},
  {"transform":[{"filter":"datum.t=='1.29'"}],"mark":{"type":"line","clip":true,"strokeWidth":5,"strokeJoin":"round"},"encoding":{"y":{"field":"v","type":"quantitative","scale":{"type":"log","domain":[0.005,1000],"nice":false}},"color":{"field":"t","type":"nominal"}}},
  {"transform":[{"filter":"datum.t=='1.37'"}],"mark":{"type":"area","clip":true,"color":"#fbc98e","opacity":1},"encoding":{"y":{"field":"lo","type":"quantitative","scale":{"type":"log","domain":[0.005,1000],"nice":false}},"y2":{"field":"hi"}}},
  {"transform":[{"filter":"datum.t=='1.37'"}],"mark":{"type":"line","clip":true,"strokeWidth":5,"strokeJoin":"round"},"encoding":{"y":{"field":"v","type":"quantitative","scale":{"type":"log","domain":[0.005,1000],"nice":false}},"color":{"field":"t","type":"nominal"}}},
  {"transform":[{"filter":"datum.t=='1.44'"}],"mark":{"type":"area","clip":true,"color":"#f8b290","opacity":1},"encoding":{"y":{"field":"lo","type":"quantitative","scale":{"type":"log","domain":[0.005,1000],"nice":false}},"y2":{"field":"hi"}}},
  {"transform":[{"filter":"datum.t=='1.44'"}],"mark":{"type":"line","clip":true,"strokeWidth":5,"strokeJoin":"round"},"encoding":{"y":{"field":"v","type":"quantitative","scale":{"type":"log","domain":[0.005,1000],"nice":false}},"color":{"field":"t","type":"nominal"}}},
  {"transform":[{"filter":"datum.t=='1.61'"}],"mark":{"type":"area","clip":true,"color":"#f68e92","opacity":1},"encoding":{"y":{"field":"lo","type":"quantitative","scale":{"type":"log","domain":[0.005,1000],"nice":false}},"y2":{"field":"hi"}}},
  {"transform":[{"filter":"datum.t=='1.61'"}],"mark":{"type":"line","clip":true,"strokeWidth":5,"strokeJoin":"round"},"encoding":{"y":{"field":"v","type":"quantitative","scale":{"type":"log","domain":[0.005,1000],"nice":false}},"color":{"field":"t","type":"nominal"}}}
 ]},
{"data":{"values":[{}]},
 "mark":{"type":"text","text":["S-wave","MEM"],"align":"left","baseline":"alphabetic","font":"Lato","fontWeight":"bold","fontSize":42,"lineHeight":55,"color":"#404040"},
 "encoding":{"x":{"datum":13.107,"type":"quantitative","scale":{"domain":[9.25,14.46],"nice":false,"zero":false},"axis":{"orient":"top","values":[10,11,12,13,14],"labels":false,"tickSize":-8,"title":null}},
  "y":{"datum":120,"type":"quantitative","scale":{"type":"log","domain":[0.005,1000],"nice":false},"axis":{"orient":"right","values":[0.01,0.1,1,10,100,1000],"labels":false,"tickSize":-9,"title":"S.Kim, P.Petreczky, A.R. in preparation","titleFont":"Lato","titleFontWeight":"bold","titleFontSize":25,"titleColor":"#a6a6a6","titleAngle":270,"titleX":23,"titleY":260,"titleAlign":"center","titleBaseline":"middle"}}}},
{"data":{"values":[{}]},
 "mark":{"type":"text","text":""},
 "encoding":{"x":{"datum":12,"type":"quantitative","scale":{"domain":[9.25,14.46],"nice":false,"zero":false},"axis":null},
  "y":{"datum":1,"type":"quantitative","scale":{"type":"log","domain":[0.005,1000],"nice":false},"axis":{"orient":"left","values":[0.008,0.02,0.05,0.08,0.2,0.5,0.8,2,5,8,20,50,80,200,500,800],"labels":false,"tickSize":-5,"title":null}}}},
{"data":{"values":[{}]},
 "mark":{"type":"text","text":""},
 "encoding":{"x":{"datum":12,"type":"quantitative","scale":{"domain":[9.25,14.46],"nice":false,"zero":false},"axis":null},
  "y":{"datum":1,"type":"quantitative","scale":{"type":"log","domain":[0.005,1000],"nice":false},"axis":{"orient":"right","values":[0.008,0.02,0.05,0.08,0.2,0.5,0.8,2,5,8,20,50,80,200,500,800],"labels":false,"tickSize":-5,"title":null}}}}
],
"resolve":{"axis":{"x":"independent","y":"independent"}}
}
